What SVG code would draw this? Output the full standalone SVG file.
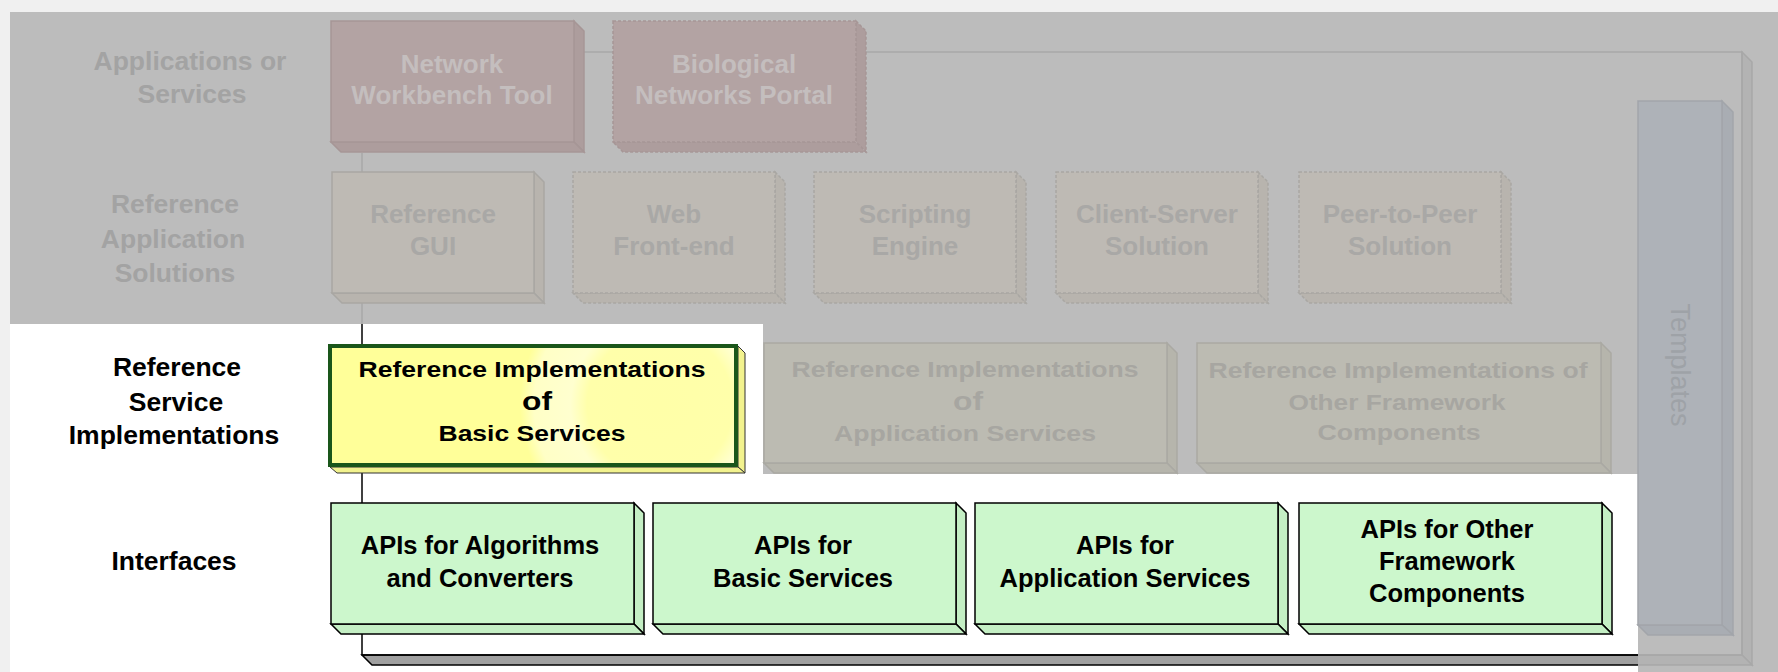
<svg xmlns="http://www.w3.org/2000/svg" width="1778" height="672" viewBox="0 0 1778 672">
<defs>
<style>
text{font-family:"Liberation Sans",Arial,Helvetica,sans-serif;font-weight:bold;text-anchor:middle}
.lbl{font-size:26.5px}
.dimlbl{fill:#a3a3a3}
.blk{fill:#000}
.bt{font-size:26px}
.gt{font-size:25.5px;fill:#000}
.rose{fill:#b3a3a3;stroke:#a69696;stroke-width:1.5}
.roseb{fill:#ad9d9d;stroke:#a69696;stroke-width:1.5}
.rosetxt{fill:#c4bebe}
.beige{fill:#bebab4;stroke:#a9a7a3;stroke-width:1.5}
.beigeb{fill:#b8b4ae;stroke:#a9a7a3;stroke-width:1.5}
.beigetxt{fill:#a9a8a6}
.olive{fill:#bcbbb2;stroke:#aaa9a3;stroke-width:1.5}
.oliveb{fill:#b6b5ac;stroke:#aaa9a3;stroke-width:1.5}
.olivetxt{fill:#a7a6a1}
.green{fill:#ccf7cc;stroke:#000;stroke-width:1.5}
.greenb{fill:#c4efc4;stroke:#000;stroke-width:1.5}
.dash{stroke-dasharray:3 2}
.tpl{fill:#aeb2b8;stroke:#a2a5aa;stroke-width:1.5}
.tplb{fill:#a9adb3;stroke:#a2a5aa;stroke-width:1.5}
</style>
<clipPath id="clipW"><path d="M10,324H763V474H1638V672H10Z"/></clipPath>
<clipPath id="clipG"><path clip-rule="evenodd" d="M0,0H1778V672H0Z M10,324H763V474H1638V672H10Z"/></clipPath>
<clipPath id="yclip"><rect x="330" y="346" width="406" height="119"/></clipPath>
<radialGradient id="glow" gradientUnits="userSpaceOnUse" cx="660" cy="405" r="140">
<stop offset="0" stop-color="#ffffa8"/>
<stop offset="0.52" stop-color="#ffffaa"/>
<stop offset="0.64" stop-color="#ffffcf"/>
<stop offset="0.9" stop-color="#ffffc6"/>
<stop offset="1" stop-color="#ffff99"/>
</radialGradient>
</defs>

<!-- backgrounds -->
<rect x="0" y="0" width="1778" height="672" fill="#f0f0f0"/>
<rect x="10" y="12" width="1768" height="660" fill="#bcbcbc"/>
<path d="M10,324H763V474H1638V672H10Z" fill="#ffffff"/>

<!-- connectors / frame -->
<g id="connectors">
  <g clip-path="url(#clipG)" stroke="#a8a8a8" stroke-width="1.5">
    <polygon points="1742,52 1752,62 1752,665 1742,655" fill="#b3b3b3"/>
    <polygon points="362,655 1742,655 1752,665 372,665" fill="#b3b3b3"/>
    <path d="M362,153V655H1742V52H584" fill="none"/>
  </g>
  <g clip-path="url(#clipW)" stroke="#000" stroke-width="1.5">
    <polygon points="362,655 1742,655 1752,665 372,665" fill="#a0a0a0"/>
    <path d="M362,153V655H1742" fill="none"/>
  </g>
</g>

<!-- row labels -->
<g id="label-apps">
  <text class="lbl dimlbl" x="190" y="70">Applications or</text>
  <text class="lbl dimlbl" x="192" y="103">Services</text>
</g>
<g id="label-refapp">
  <text class="lbl dimlbl" x="175" y="213">Reference</text>
  <text class="lbl dimlbl" x="173" y="248">Application</text>
  <text class="lbl dimlbl" x="175" y="282">Solutions</text>
</g>
<g id="label-refsvc">
  <text class="lbl blk" x="177" y="376">Reference</text>
  <text class="lbl blk" x="176" y="411">Service</text>
  <text class="lbl blk" x="174" y="444">Implementations</text>
</g>
<g id="label-interfaces">
  <text class="lbl blk" x="174" y="570">Interfaces</text>
</g>

<!-- row 1 -->
<g id="network-workbench-tool">
  <polygon class="roseb" points="574,21 584,31 584,152 574,142"/>
  <polygon class="roseb" points="331,142 574,142 584,152 341,152"/>
  <rect class="rose" x="331" y="21" width="243" height="121"/>
  <text class="bt rosetxt" x="452" y="73">Network</text>
  <text class="bt rosetxt" x="452" y="104">Workbench Tool</text>
</g>
<g id="biological-networks-portal">
  <polygon class="roseb dash" points="856,21 866,31 866,152 856,142"/>
  <polygon class="roseb dash" points="613,142 856,142 866,152 623,152"/>
  <rect class="rose dash" x="613" y="21" width="243" height="121"/>
  <text class="bt rosetxt" x="734" y="73">Biological</text>
  <text class="bt rosetxt" x="734" y="104">Networks Portal</text>
</g>

<!-- row 2 -->
<g id="reference-gui">
  <polygon class="beigeb" points="534,172 544,182 544,303 534,293"/>
  <polygon class="beigeb" points="332,293 534,293 544,303 342,303"/>
  <rect class="beige" x="332" y="172" width="202" height="121"/>
  <text class="bt beigetxt" x="433" y="223">Reference</text>
  <text class="bt beigetxt" x="433" y="255">GUI</text>
</g>
<g id="web-front-end">
  <polygon class="beigeb dash" points="775,172 785,182 785,303 775,293"/>
  <polygon class="beigeb dash" points="573,293 775,293 785,303 583,303"/>
  <rect class="beige dash" x="573" y="172" width="202" height="121"/>
  <text class="bt beigetxt" x="674" y="223">Web</text>
  <text class="bt beigetxt" x="674" y="255">Front-end</text>
</g>
<g id="scripting-engine">
  <polygon class="beigeb dash" points="1016,172 1026,182 1026,303 1016,293"/>
  <polygon class="beigeb dash" points="814,293 1016,293 1026,303 824,303"/>
  <rect class="beige dash" x="814" y="172" width="202" height="121"/>
  <text class="bt beigetxt" x="915" y="223">Scripting</text>
  <text class="bt beigetxt" x="915" y="255">Engine</text>
</g>
<g id="client-server-solution">
  <polygon class="beigeb dash" points="1258,172 1268,182 1268,303 1258,293"/>
  <polygon class="beigeb dash" points="1056,293 1258,293 1268,303 1066,303"/>
  <rect class="beige dash" x="1056" y="172" width="202" height="121"/>
  <text class="bt beigetxt" x="1157" y="223">Client-Server</text>
  <text class="bt beigetxt" x="1157" y="255">Solution</text>
</g>
<g id="peer-to-peer-solution">
  <polygon class="beigeb dash" points="1501,172 1511,182 1511,303 1501,293"/>
  <polygon class="beigeb dash" points="1299,293 1501,293 1511,303 1309,303"/>
  <rect class="beige dash" x="1299" y="172" width="202" height="121"/>
  <text class="bt beigetxt" x="1400" y="223">Peer-to-Peer</text>
  <text class="bt beigetxt" x="1400" y="255">Solution</text>
</g>

<!-- row 3 -->
<g id="ref-impl-basic-services">
  <polygon points="738,346 745,353 745,473 738,467" fill="#f2f28e" stroke="#333" stroke-width="1"/>
  <polygon points="330,467 738,467 745,473 337,473" fill="#f2f28e" stroke="#333" stroke-width="1"/>
  <rect x="330" y="346" width="406" height="119" fill="#ffff99"/>
  <circle clip-path="url(#yclip)" cx="660" cy="405" r="140" fill="url(#glow)"/>
  <rect x="330" y="346" width="406" height="119" fill="none" stroke="#1a561a" stroke-width="4"/>
  <text class="blk" style="font-size:22.5px" x="532" y="377" textLength="347" lengthAdjust="spacingAndGlyphs">Reference Implementations</text>
  <text class="blk" style="font-size:26px" x="537" y="410" textLength="30" lengthAdjust="spacingAndGlyphs">of</text>
  <text class="blk" style="font-size:22.5px" x="532" y="441" textLength="187" lengthAdjust="spacingAndGlyphs">Basic Services</text>
</g>
<g id="ref-impl-application-services">
  <polygon class="oliveb" points="1167,343 1177,353 1177,473 1167,463"/>
  <polygon class="oliveb" points="764,463 1167,463 1177,473 774,473"/>
  <rect class="olive" x="764" y="343" width="403" height="120"/>
  <text class="olivetxt" style="font-size:22.5px" x="965" y="377" textLength="347" lengthAdjust="spacingAndGlyphs">Reference Implementations</text>
  <text class="olivetxt" style="font-size:26px" x="968" y="410" textLength="30" lengthAdjust="spacingAndGlyphs">of</text>
  <text class="olivetxt" style="font-size:22.5px" x="965" y="441" textLength="262" lengthAdjust="spacingAndGlyphs">Application Services</text>
</g>
<g id="ref-impl-other-framework-components">
  <polygon class="oliveb" points="1601,343 1611,353 1611,473 1601,463"/>
  <polygon class="oliveb" points="1197,463 1601,463 1611,473 1207,473"/>
  <rect class="olive" x="1197" y="343" width="404" height="120"/>
  <text class="olivetxt" style="font-size:22.5px" x="1398" y="378" textLength="379" lengthAdjust="spacingAndGlyphs">Reference Implementations of</text>
  <text class="olivetxt" style="font-size:22.5px" x="1397" y="410" textLength="217" lengthAdjust="spacingAndGlyphs">Other Framework</text>
  <text class="olivetxt" style="font-size:22.5px" x="1399" y="440" textLength="163" lengthAdjust="spacingAndGlyphs">Components</text>
</g>

<!-- templates -->
<g id="templates">
  <polygon class="tplb" points="1722,101 1733,112 1733,635 1722,625"/>
  <polygon class="tplb" points="1638,625 1722,625 1733,635 1648,635"/>
  <rect class="tpl" x="1638" y="101" width="84" height="524"/>
  <text transform="translate(1671,365) rotate(90)" x="0" y="0" style="font-weight:normal;font-size:27px;fill:#9ea2a7">Templates</text>
</g>

<!-- row 4 -->
<g id="apis-algorithms-converters">
  <polygon class="greenb" points="634,503 644,513 644,634 634,624"/>
  <polygon class="greenb" points="331,624 634,624 644,634 341,634"/>
  <rect class="green" x="331" y="503" width="303" height="121"/>
  <text class="gt" x="480" y="554">APIs for Algorithms</text>
  <text class="gt" x="480" y="587">and Converters</text>
</g>
<g id="apis-basic-services">
  <polygon class="greenb" points="956,503 966,513 966,634 956,624"/>
  <polygon class="greenb" points="653,624 956,624 966,634 663,634"/>
  <rect class="green" x="653" y="503" width="303" height="121"/>
  <text class="gt" x="803" y="554">APIs for</text>
  <text class="gt" x="803" y="587">Basic Services</text>
</g>
<g id="apis-application-services">
  <polygon class="greenb" points="1278,503 1288,513 1288,634 1278,624"/>
  <polygon class="greenb" points="975,624 1278,624 1288,634 985,634"/>
  <rect class="green" x="975" y="503" width="303" height="121"/>
  <text class="gt" x="1125" y="554">APIs for</text>
  <text class="gt" x="1125" y="587">Application Services</text>
</g>
<g id="apis-other-framework-components">
  <polygon class="greenb" points="1602,503 1612,513 1612,634 1602,624"/>
  <polygon class="greenb" points="1299,624 1602,624 1612,634 1309,634"/>
  <rect class="green" x="1299" y="503" width="303" height="121"/>
  <text class="gt" x="1447" y="538">APIs for Other</text>
  <text class="gt" x="1447" y="570">Framework</text>
  <text class="gt" x="1447" y="602">Components</text>
</g>
</svg>
